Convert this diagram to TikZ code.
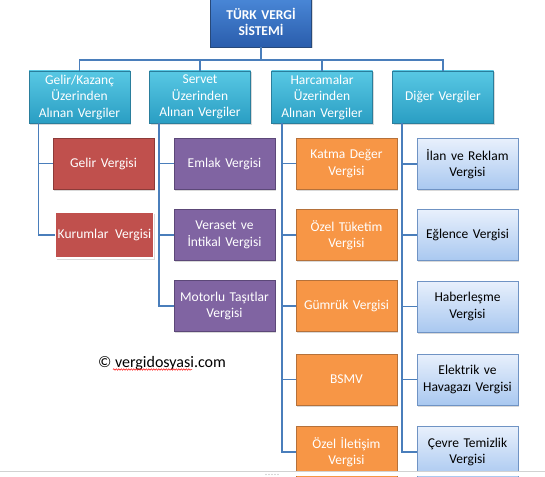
\documentclass[tikz,border=0pt]{standalone}
\usepackage{fontspec}
\setmainfont{Carlito}
\usetikzlibrary{shadows,decorations.pathmorphing}

\definecolor{linkblue}{HTML}{4A7EBB}
\definecolor{roottop}{HTML}{4A88D8}
\definecolor{rootbot}{HTML}{2A5DAC}
\definecolor{rootline}{HTML}{27497A}
\definecolor{grouptop}{HTML}{58C8E4}
\definecolor{groupbot}{HTML}{2A9EC3}
\definecolor{groupline}{HTML}{2A7E9C}
\definecolor{taxred}{HTML}{C0504D}
\definecolor{taxredline}{HTML}{8C3B39}
\definecolor{taxpurple}{HTML}{8064A2}
\definecolor{taxpurpleline}{HTML}{5C4878}
\definecolor{taxorange}{HTML}{F79646}
\definecolor{taxorangeline}{HTML}{B5713A}
\definecolor{paletop}{HTML}{E8F0FC}
\definecolor{palebot}{HTML}{A9C8F0}
\definecolor{paleline}{HTML}{6F93C4}

\tikzset{
  box/.style={rectangle, minimum height=51pt, text width=99pt, align=center,
    inner sep=1pt, line width=0.9pt, font=\fontsize{13.5}{16.5}\selectfont,
    drop shadow={shadow xshift=1.2pt, shadow yshift=-1.5pt, opacity=0.3}},
  rootbox/.style={box, minimum height=50pt, top color=roottop, bottom color=rootbot,
    draw=rootline, text=white, font=\fontsize{13.5}{16.5}\selectfont\bfseries},
  groupbox/.style={box, minimum height=52pt, top color=grouptop, bottom color=groupbot,
    draw=groupline, text=white},
  redbox/.style={box, fill=taxred, draw=taxredline, text=white},
  purplebox/.style={box, fill=taxpurple, draw=taxpurpleline, text=white},
  orangebox/.style={box, fill=taxorange, draw=taxorangeline, text=white},
  bluebox/.style={box, top color=paletop, bottom color=palebot, draw=paleline, text=black},
  conn/.style={draw=linkblue, line width=1.6pt}
}

\begin{document}
\begin{tikzpicture}[x=1pt,y=-1pt]
\useasboundingbox (0,0) rectangle (545,476);

\node[rootbox] (root) at (261,22) {TÜRK VERGİ\\SİSTEMİ};
\coordinate (bus) at (0,60);

\node[groupbox] (gelirkazanc) at (79.5,97) {Gelir/Kazanç\\Üzerinden\\Alınan Vergiler};
\node[groupbox] (servet) at (200,97) {Servet\\Üzerinden\\Alınan Vergiler};
\node[groupbox] (harcama) at (322,97) {Harcamalar\\Üzerinden\\Alınan Vergiler};
\node[groupbox] (diger) at (443,97) {Diğer Vergiler};

\node[redbox] (gelir) at (103.5,163.5) {Gelir Vergisi};
\node[redbox, text width=98pt, inner sep=0pt, minimum height=46pt, draw=white, line width=1.5pt] (kurumlar) at (104.5,235) {Kurumlar\ \,Vergisi};

\node[purplebox] (emlak) at (224.5,163.5) {Emlak Vergisi};
\node[purplebox] (veraset) at (224.5,235) {Veraset ve\\İntikal Vergisi};
\node[purplebox] (motorlu) at (224.5,306) {Motorlu Taşıtlar\\Vergisi};

\node[orangebox] (kdv) at (346.5,163.5) {Katma Değer\\Vergisi};
\node[orangebox] (otv) at (346.5,235) {Özel Tüketim\\Vergisi};
\node[orangebox] (gumruk) at (346.5,306) {Gümrük Vergisi};
\node[orangebox] (bsmv) at (346.5,379.5) {BSMV};
\node[orangebox] (oiv) at (346.5,452) {Özel İletişim\\Vergisi};

\node[bluebox] (ilan) at (467.5,164) {İlan ve Reklam\\Vergisi};
\node[bluebox] (eglence) at (467.5,235) {Eğlence Vergisi};
\node[bluebox] (haber) at (467.5,306.5) {Haberleşme\\Vergisi};
\node[bluebox] (elektrik) at (467.5,379.5) {Elektrik ve\\Havagazı Vergisi};
\node[bluebox] (cevre) at (467.5,452) {Çevre Temizlik\\Vergisi};

\foreach \g in {gelirkazanc,servet,harcama,diger}
  \draw[conn] (root.south) -- (root.south |- bus) -| (\g.north);

\foreach \c in {gelir,kurumlar}
  \draw[conn] ([xshift=10pt]gelirkazanc.south west) |- (\c.west);
\foreach \c in {emlak,veraset,motorlu}
  \draw[conn] ([xshift=10pt]servet.south west) |- (\c.west);
\foreach \c in {kdv,otv,gumruk,bsmv,oiv}
  \draw[conn] ([xshift=11pt]harcama.south west) |- (\c.west);
\foreach \c in {ilan,eglence,haber,elektrik,cevre}
  \draw[conn] ([xshift=10pt]diger.south west) |- (\c.west);

\node[font=\fontsize{16}{19}\selectfont, inner sep=0pt] (site) at (162,363) {© vergidosyasi.com};
\draw[red, line width=0.5pt, decorate, decoration={snake, amplitude=0.7pt, segment length=2.5pt}]
  (113,369.5) -- (192,369.5);

\fill[white] (0,471) rectangle (545,476);
\draw[gray!35, line width=0.8pt] (0,471) -- (545,471);
\foreach \i in {0,...,4}
  \fill[gray!60] (266+3*\i,474.5) circle (0.6pt);
\end{tikzpicture}
\end{document}
